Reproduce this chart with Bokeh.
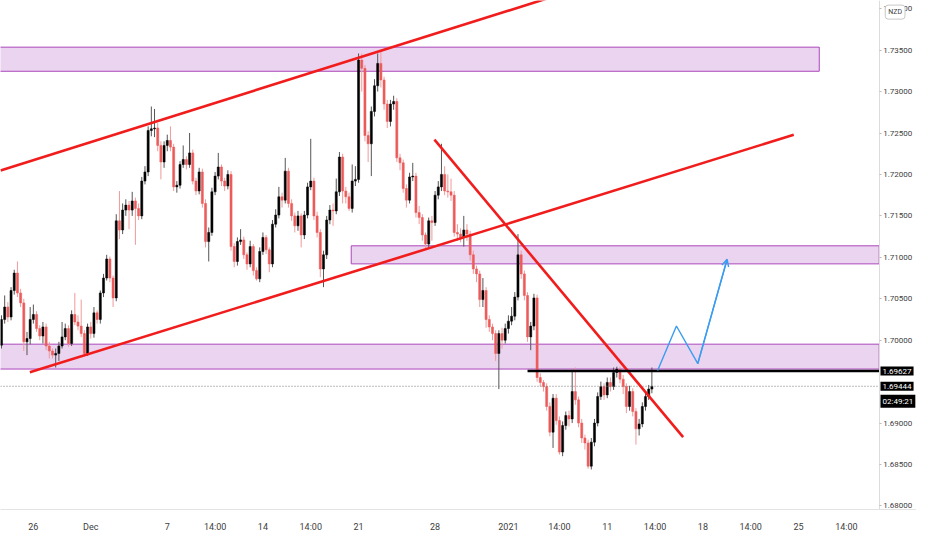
from bokeh.plotting import figure
from bokeh.models import (Range1d, FixedTicker, PrintfTickFormatter, Label, Arrow,
                          OpenHead, ColumnDataSource)
from bokeh.embed import file_html
from bokeh.resources import INLINE

# ---------------- data (NZD cross, 4h candles, bar index on x) ----------------
first_open = 1.6994
close = [
    1.7025, 1.7040, 1.7028, 1.7060, 1.7081, 1.7057, 1.7045, 1.6998, 1.7002, 1.7025,
    1.7031, 1.7014, 1.7005, 1.7016, 1.6993, 1.6987, 1.6982, 1.6984, 1.6993, 1.7004,
    1.7014, 1.6996, 1.7031, 1.7022, 1.7017, 1.7008, 1.6984, 1.7016, 1.7008, 1.7033,
    1.7025, 1.7057, 1.7075, 1.7098, 1.7075, 1.7051, 1.7144, 1.7133, 1.7157, 1.7163,
    1.7157, 1.7168, 1.7159, 1.7150, 1.7192, 1.7203, 1.7253, 1.7255, 1.7256, 1.7235,
    1.7215, 1.7235, 1.7241, 1.7233, 1.7185, 1.7187, 1.7212, 1.7218, 1.7212, 1.7226,
    1.7192, 1.7180, 1.7203, 1.7165, 1.7119, 1.7130, 1.7179, 1.7198, 1.7209, 1.7192,
    1.7186, 1.7200, 1.7113, 1.7095, 1.7119, 1.7121, 1.7103, 1.7092, 1.7113, 1.7084,
    1.7074, 1.7107, 1.7124, 1.7109, 1.7092, 1.7140, 1.7151, 1.7173, 1.7169, 1.7204,
    1.7165, 1.7150, 1.7138, 1.7150, 1.7127, 1.7151, 1.7185, 1.7192, 1.7150, 1.7130,
    1.7086, 1.7103, 1.7145, 1.7157, 1.7156, 1.7179, 1.7221, 1.7180, 1.7173, 1.7159,
    1.7192, 1.7194, 1.7338, 1.7328, 1.7247, 1.7237, 1.7276, 1.7307, 1.7334, 1.7314,
    1.7285, 1.7264, 1.7285, 1.7288, 1.7220, 1.7214, 1.7183, 1.7169, 1.7197, 1.7198,
    1.7154, 1.7148, 1.7127, 1.7116, 1.7144, 1.7142, 1.7175, 1.7185, 1.7200, 1.7180,
    1.7179, 1.7175, 1.7130, 1.7128, 1.7124, 1.7133, 1.7128, 1.7103, 1.7086, 1.7080,
    1.7049, 1.7060, 1.7025, 1.7016, 1.7008, 1.6984, 1.7008, 1.7000, 1.7014, 1.7023,
    1.7029, 1.7052, 1.7103, 1.7080, 1.7054, 1.7004, 1.7017, 1.7051, 1.6955, 1.6949,
    1.6944, 1.6920, 1.6889, 1.6930, 1.6903, 1.6865, 1.6897, 1.6909, 1.6905, 1.6938,
    1.6928, 1.6900, 1.6882, 1.6876, 1.6848, 1.6877, 1.6900, 1.6932, 1.6944, 1.6934,
    1.6949, 1.6944, 1.6961, 1.6965, 1.6953, 1.6944, 1.6920, 1.6938, 1.6914, 1.6893,
    1.6899, 1.6920, 1.6932, 1.6941, 1.69444,
]
high = [
    1.7030, 1.7054, 1.7046, 1.7064, 1.7085, 1.7095, 1.7062, 1.7050, 1.7010, 1.7040,
    1.7043, 1.7035, 1.7018, 1.7022, 1.7020, 1.6998, 1.6990, 1.6990, 1.6998, 1.7022,
    1.7020, 1.7018, 1.7036, 1.7057, 1.7030, 1.7049, 1.7012, 1.7020, 1.7022, 1.7040,
    1.7036, 1.7060, 1.7080, 1.7103, 1.7101, 1.7078, 1.7152, 1.7180, 1.7165, 1.7170,
    1.7168, 1.7179, 1.7172, 1.7165, 1.7197, 1.7210, 1.7258, 1.7282, 1.7279, 1.7262,
    1.7240, 1.7240, 1.7248, 1.7258, 1.7237, 1.7192, 1.7216, 1.7235, 1.7222, 1.7250,
    1.7230, 1.7196, 1.7208, 1.7207, 1.7170, 1.7136, 1.7184, 1.7203, 1.7226, 1.7212,
    1.7196, 1.7205, 1.7204, 1.7117, 1.7124, 1.7134, 1.7125, 1.7106, 1.7120, 1.7116,
    1.7088, 1.7112, 1.7130, 1.7127, 1.7112, 1.7145, 1.7158, 1.7185, 1.7178, 1.7220,
    1.7208, 1.7170, 1.7154, 1.7156, 1.7153, 1.7156, 1.7190, 1.7243, 1.7196, 1.7155,
    1.7134, 1.7108, 1.7150, 1.7163, 1.7165, 1.7195, 1.7227, 1.7225, 1.7185, 1.7178,
    1.7212, 1.7210, 1.7346, 1.7346, 1.7332, 1.7252, 1.7282, 1.7315, 1.7346, 1.7348,
    1.7318, 1.7290, 1.7290, 1.7295, 1.7292, 1.7225, 1.7218, 1.7188, 1.7202, 1.7214,
    1.7202, 1.7162, 1.7152, 1.7130, 1.7148, 1.7150, 1.7180, 1.7192, 1.7237, 1.7210,
    1.7200, 1.7195, 1.7180, 1.7140, 1.7135, 1.7150, 1.7140, 1.7132, 1.7108, 1.7090,
    1.7084, 1.7075, 1.7064, 1.7030, 1.7020, 1.7012, 1.7012, 1.7015, 1.7020, 1.7030,
    1.7040, 1.7058, 1.7128, 1.7108, 1.7084, 1.7058, 1.7022, 1.7056, 1.7055, 1.6960,
    1.6952, 1.6948, 1.6925, 1.6935, 1.6935, 1.6908, 1.6902, 1.6914, 1.6915, 1.6963,
    1.6967, 1.6932, 1.6905, 1.6886, 1.6880, 1.6882, 1.6905, 1.6937, 1.6950, 1.6948,
    1.6955, 1.6955, 1.6967, 1.6968, 1.6968, 1.6958, 1.6948, 1.6945, 1.6942, 1.6918,
    1.6905, 1.6925, 1.6937, 1.6946, 1.6967,
]
low = [
    1.6990, 1.7020, 1.7022, 1.7024, 1.7055, 1.7052, 1.7040, 1.6987, 1.6982, 1.6995,
    1.7020, 1.7010, 1.7000, 1.6996, 1.6988, 1.6978, 1.6978, 1.6967, 1.6975, 1.6990,
    1.7000, 1.6992, 1.6993, 1.7018, 1.7012, 1.7004, 1.6980, 1.6981, 1.7002, 1.7003,
    1.7020, 1.7020, 1.7052, 1.7072, 1.7070, 1.7040, 1.7047, 1.7122, 1.7128, 1.7150,
    1.7134, 1.7150, 1.7115, 1.7145, 1.7146, 1.7188, 1.7198, 1.7246, 1.7245, 1.7228,
    1.7194, 1.7208, 1.7228, 1.7228, 1.7180, 1.7178, 1.7183, 1.7208, 1.7206, 1.7208,
    1.7188, 1.7175, 1.7176, 1.7160, 1.7112, 1.7095, 1.7126, 1.7175, 1.7194, 1.7186,
    1.7180, 1.7182, 1.7108, 1.7088, 1.7090, 1.7115, 1.7098, 1.7085, 1.7088, 1.7078,
    1.7072, 1.7070, 1.7103, 1.7104, 1.7082, 1.7088, 1.7136, 1.7147, 1.7160, 1.7165,
    1.7160, 1.7144, 1.7130, 1.7132, 1.7112, 1.7122, 1.7147, 1.7181, 1.7145, 1.7124,
    1.7076, 1.7064, 1.7098, 1.7140, 1.7138, 1.7152, 1.7174, 1.7165, 1.7165, 1.7156,
    1.7154, 1.7186, 1.7190, 1.7300, 1.7240, 1.7215, 1.7198, 1.7270, 1.7300, 1.7305,
    1.7278, 1.7256, 1.7258, 1.7278, 1.7215, 1.7205, 1.7178, 1.7160, 1.7165, 1.7192,
    1.7148, 1.7140, 1.7120, 1.7110, 1.7112, 1.7120, 1.7138, 1.7170, 1.7180, 1.7175,
    1.7172, 1.7168, 1.7125, 1.7120, 1.7118, 1.7113, 1.7120, 1.7096, 1.7080, 1.7070,
    1.7040, 1.7040, 1.7015, 1.7010, 1.7000, 1.6975, 1.6941, 1.6990, 1.6996, 1.7008,
    1.7018, 1.7024, 1.7048, 1.7074, 1.7048, 1.6998, 1.6988, 1.7012, 1.6950, 1.6944,
    1.6938, 1.6915, 1.6884, 1.6870, 1.6898, 1.6862, 1.6860, 1.6892, 1.6896, 1.6900,
    1.6922, 1.6895, 1.6876, 1.6868, 1.6845, 1.6844, 1.6872, 1.6896, 1.6928, 1.6928,
    1.6930, 1.6938, 1.6940, 1.6955, 1.6948, 1.6935, 1.6912, 1.6915, 1.6908, 1.6874,
    1.6885, 1.6895, 1.6915, 1.6928, 1.6936,
]

# x-axis labels (bar index -> label)
tick_pos = [10, 28, 52, 67, 82, 97, 112, 136, 159, 175, 190, 205, 220, 235, 250, 265]
tick_txt = ["26", "Dec", "7", "14:00", "14", "14:00", "21", "28", "2021", "14:00",
            "11", "14:00", "18", "14:00", "25", "14:00"]
price_ticks = [1.680, 1.685, 1.690, 1.700, 1.705, 1.710, 1.715, 1.720, 1.725,
               1.730, 1.735, 1.740]

# drawings: zones, trendlines, levels, projection
zone_left = [-5, 109.7, -5]
zone_right = [256.5, 275.3, 275.3]
zone_top = [1.73536, 1.71139, 1.69952]
zone_bottom = [1.73245, 1.70921, 1.69652]
trend_x = [[-0.3, 184.0], [8.9, 248.5], [135.8, 213.8]]
trend_y = [[1.72048, 1.74279], [1.69612, 1.72479], [1.72421, 1.68831]]
level_price = 1.69627
level_x = [165.0, 275.3]
last_price = 1.69444
timer_text = "02:49:21"
proj_x = [205.8, 211.7, 218.4, 227.6]
proj_y = [1.69635, 1.70171, 1.69717, 1.70976]

# ---------------- figure ----------------
SCALE_X = 275.3          # bar-index position of the price scale
XR = (-0.31, 287.0)
YR = (1.67957, 1.74099)
FONT = "Roboto"
p = figure(width=916, height=534, output_backend="svg", toolbar_location=None,
           x_range=Range1d(*XR), y_range=Range1d(*YR), y_axis_location="right",
           min_border_left=0, min_border_top=0, min_border_right=0,
           min_border_bottom=22)
p.outline_line_color = None
p.xgrid.visible = False
p.ygrid.visible = False
p.background_fill_color = "white"
p.border_fill_color = "white"

# zones
p.quad(left=zone_left, right=zone_right, top=zone_top, bottom=zone_bottom,
       fill_color="#ce93d8", fill_alpha=0.4, line_color="#ab47bc", line_width=1)

# candles
n = min(len(close), len(high), len(low))
opens = [first_open] + close[:n - 1]
up = [i for i in range(n) if close[i] >= opens[i]]
dn = [i for i in range(n) if close[i] < opens[i]]


def make_src(ids):
    return ColumnDataSource(dict(
        x=ids,
        top=[max(opens[i], close[i]) for i in ids],
        bottom=[min(opens[i], close[i]) for i in ids],
        high=[high[i] for i in ids],
        low=[low[i] for i in ids]))


su, sd = make_src(up), make_src(dn)
p.segment(x0="x", x1="x", y0="low", y1="high", source=su, line_color="#555555", line_width=1)
p.segment(x0="x", x1="x", y0="low", y1="high", source=sd, line_color="#f09a9a", line_width=1)
p.vbar(x="x", width=0.66, top="top", bottom="bottom", source=su,
       fill_color="#000000", line_color="#000000", line_width=0.5)
p.vbar(x="x", width=0.66, top="top", bottom="bottom", source=sd,
       fill_color="#ec5b5b", line_color="#ec5b5b", line_width=0.5)

# last price dotted line
p.line(x=[XR[0], SCALE_X], y=[last_price, last_price], line_color="#777777",
       line_dash="1 2", line_width=1)

# trendlines
p.multi_line(xs=trend_x, ys=trend_y, line_color="#f11c1c", line_width=2.6)
# horizontal level
p.line(x=level_x, y=[level_price, level_price], line_color="#000000", line_width=2.5)

# projection path
BLUE = "#3a9cf0"
p.line(x=proj_x, y=proj_y, line_color=BLUE, line_width=1.4)
p.add_layout(Arrow(end=OpenHead(line_color=BLUE, line_width=1.4, size=7),
                   x_start=proj_x[-2], y_start=proj_y[-2], x_end=proj_x[-1], y_end=proj_y[-1],
                   line_color=BLUE, line_width=1.4))

# axes
ya = p.yaxis[0]
ya.fixed_location = SCALE_X
ya.ticker = FixedTicker(ticks=price_ticks)
ya.formatter = PrintfTickFormatter(format="%.5f")
ya.major_label_text_font_size = "8px"
ya.major_label_text_font = FONT
ya.major_label_text_color = "#404040"
ya.axis_line_color = "#dcdcdc"
ya.major_tick_line_color = "#bbbbbb"
ya.major_tick_out = 2
ya.major_tick_in = 0
ya.minor_tick_line_color = None
ya.major_label_standoff = 2

xa = p.xaxis[0]
xa.ticker = FixedTicker(ticks=tick_pos)
xa.major_label_overrides = {k: v for k, v in zip(tick_pos, tick_txt)}
xa.major_label_text_font_size = "9px"
xa.major_label_text_font = FONT
xa.major_label_text_color = "#404040"
xa.axis_line_color = "#e3e3e3"
xa.major_tick_line_color = None
xa.minor_tick_line_color = None
xa.major_label_standoff = 6

# price-scale tags
for price, txt, off in [(level_price, f"{level_price:.5f}", 0),
                        (last_price, f"{last_price:.5f}", 0),
                        (last_price, timer_text, -15)]:
    p.add_layout(Label(x=SCALE_X + 0.4, y=price, y_offset=off, text=txt,
                       text_font=FONT, text_font_size="8px", text_color="white",
                       text_baseline="middle", text_align="left",
                       background_fill_color="#000000", padding=2))

p.add_layout(Label(x=SCALE_X + 5, y=1.73959, text="NZD", text_font=FONT,
                   text_font_size="7px", text_color="#404040", text_align="center",
                   text_baseline="middle", background_fill_color="white",
                   border_line_color="#c8c8c8", padding=3, border_radius=3))

open("out.html", "w").write(file_html(p, INLINE))
